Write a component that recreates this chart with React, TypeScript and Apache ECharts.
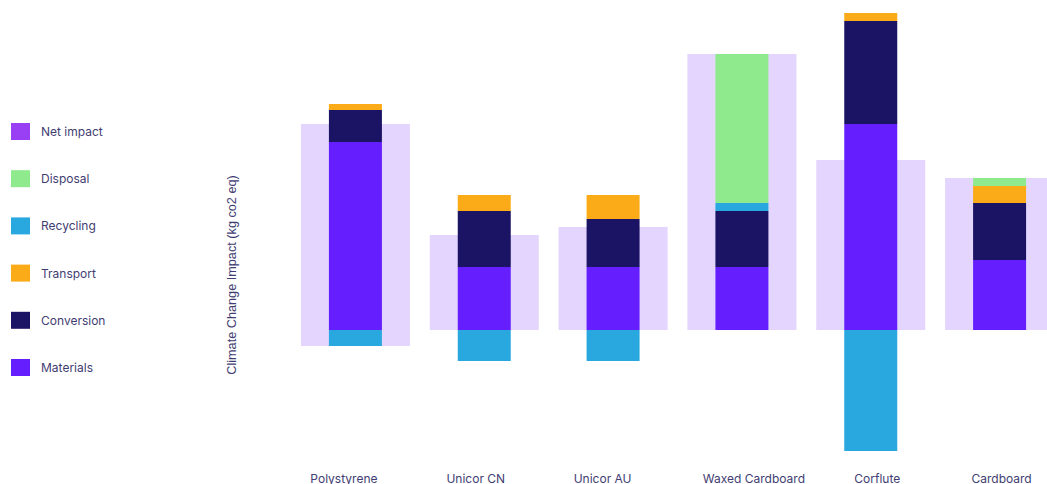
import React, { useEffect, useRef } from "react";
import * as echarts from "echarts";

const categories = ["Polystyrene", "Unicor CN", "Unicor AU", "Waxed Cardboard", "Corflute", "Cardboard"];
const materials = [1.88, 0.63, 0.63, 0.63, 2.06, 0.7];
const conversion = [0.32, 0.56, 0.48, 0.56, 1.03, 0.57];
const recycling = [-0.16, -0.31, -0.31, 0.08, -1.21, 0];
const transport = [0.06, 0.16, 0.24, 0, 0.08, 0.17];
const disposal = [0, 0, 0, 1.49, 0, 0.08];
const netLow = [-0.16, 0, 0, 0, 0, 0];
const netHigh = [2.06, 0.95, 1.03, 2.76, 1.7, 1.52];
const legendNames = ["Net impact", "Disposal", "Recycling", "Transport", "Conversion", "Materials"];

// label nudges (px) to mirror the reference's label placement
const labelShift = [-11.5, -8.5, -10.5, 12, 6.5, 2];

const TEXT = "#3f3d72";
const FONT = "Inter, 'Noto Sans', sans-serif";

export default function App() {
  const ref = useRef<HTMLDivElement>(null);
  useEffect(() => {
    document.body.style.margin = "0";
    document.body.style.overflow = "hidden";
    const chart = echarts.init(ref.current!, null, { renderer: "svg" });
    const rich: Record<string, any> = {};
    labelShift.forEach((s, i) => {
      rich["l" + i] = {
        fontFamily: FONT,
        fontSize: 12,
        color: TEXT,
        padding: s >= 0 ? [0, 0, 0, 2 * s] : [0, -2 * s, 0, 0],
      };
    });
    const stackBar = (name: string, data: number[], color: string) => ({
      name,
      type: "bar",
      stack: "total",
      xAxisIndex: 0,
      yAxisIndex: 0,
      barWidth: 53,
      data,
      itemStyle: { color },
      emphasis: { disabled: true },
    });
    chart.setOption({
      animation: false,
      grid: { left: 291, right: 0, top: 10, bottom: 22, containLabel: false },
      legend: {
        orient: "vertical",
        left: 6,
        top: 118,
        itemWidth: 19,
        itemHeight: 17,
        itemGap: 30.2,
        icon: "rect",
        selectedMode: false,
        textStyle: { fontFamily: FONT, fontSize: 12, color: TEXT, padding: [0, 0, 0, 6] },
        data: [
          { name: "Net impact", itemStyle: { color: "#9940f5" } },
          ...legendNames.slice(1),
        ],
      },
      xAxis: [
        {
          type: "category",
          data: categories,
          axisLine: { show: false },
          axisTick: { show: false },
          splitLine: { show: false },
          axisLabel: {
            margin: 10,
            interval: 0,
            formatter: (v: string) => `{l${categories.indexOf(v)}|${v}}`,
            rich,
          },
        },
        {
          type: "category",
          data: categories,
          show: false,
        },
      ],
      yAxis: {
        type: "value",
        min: -1.32,
        max: 3.2,
        show: false,
        splitLine: { show: false },
      },
      graphic: [
        {
          type: "text",
          x: 232,
          y: 275,
          rotation: Math.PI / 2,
          style: {
            text: "Climate Change Impact (kg co2 eq)",
            fontFamily: "'Liberation Sans', Arial, sans-serif",
            fontSize: 12.7,
            fill: TEXT,
            align: "center",
            verticalAlign: "middle",
          },
        },
      ],
      series: [
        {
          name: "netBase",
          type: "bar",
          stack: "net",
          stackStrategy: "all",
          xAxisIndex: 1,
          barWidth: 109,
          data: netLow,
          itemStyle: { color: "rgba(0,0,0,0)" },
          silent: true,
        },
        {
          name: "Net impact",
          type: "bar",
          stack: "net",
          stackStrategy: "all",
          xAxisIndex: 1,
          barWidth: 109,
          data: netHigh.map((h, i) => +(h - netLow[i]).toFixed(4)),
          itemStyle: { color: "#e3d5fd" },
          emphasis: { disabled: true },
        },
        stackBar("Materials", materials, "#651fff"),
        stackBar("Conversion", conversion, "#1b1464"),
        stackBar("Recycling", recycling, "#29a8e0"),
        stackBar("Transport", transport, "#fbab18"),
        stackBar("Disposal", disposal, "#8eea8c"),
      ],
    });
    return () => chart.dispose();
  }, []);
  return (
    <div style={{ width: 1047, height: 484, overflow: "hidden" }}>
      <div ref={ref} style={{ width: 1064, height: 484 }} />
    </div>
  );
}
